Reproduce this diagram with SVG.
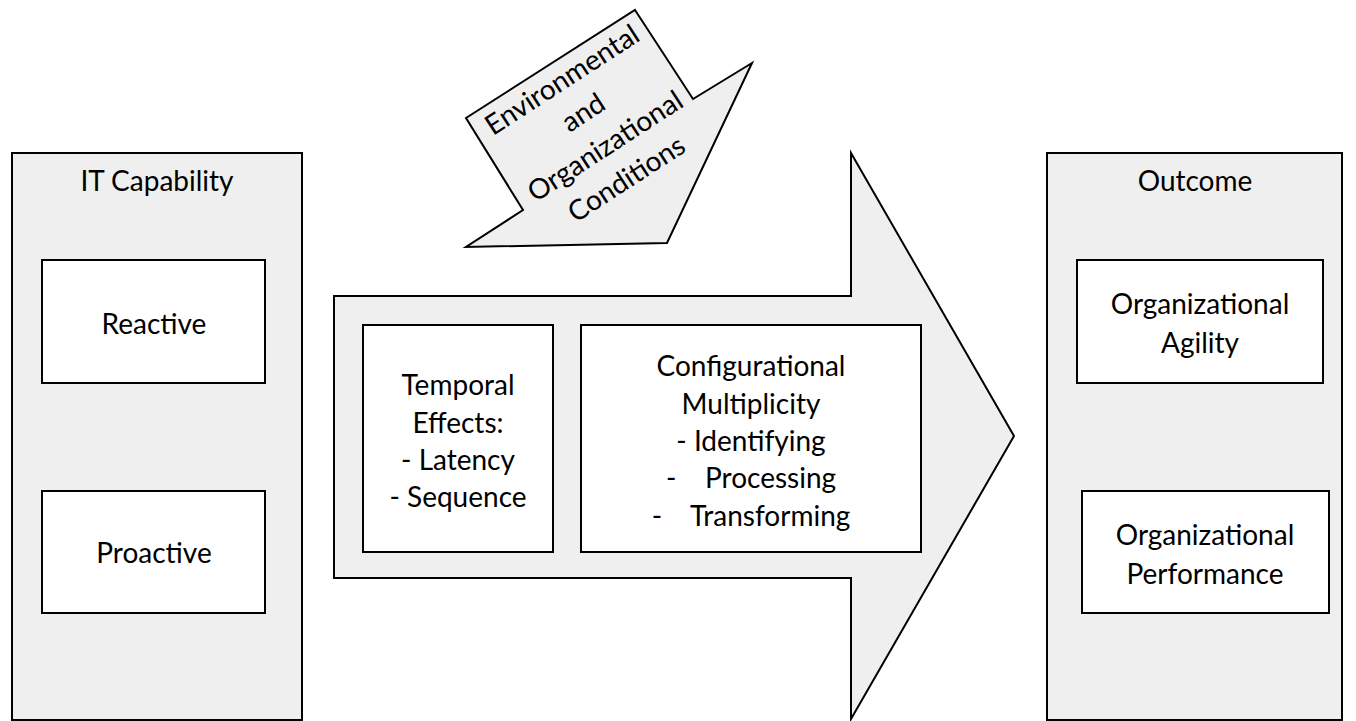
<svg xmlns="http://www.w3.org/2000/svg" width="1356" height="721" viewBox="0 0 1356 721">
<style>
.panel{fill:#efefef;stroke:#000;stroke-width:2}
.box{fill:#fff;stroke:#000;stroke-width:2}
.t{font-family:Lato,"Open Sans",sans-serif;font-size:28px;fill:#000;text-anchor:middle}
</style>
<rect width="1356" height="721" fill="#fff"/>
<g id="it-capability">
<rect class="panel" x="12" y="153" width="290" height="567"/>
<text class="t" x="157" y="191">IT Capability</text>
</g>
<g id="reactive">
<rect class="box" x="42" y="260" width="223" height="123"/>
<text class="t" x="154" y="334">Reactive</text>
</g>
<g id="proactive">
<rect class="box" x="42" y="491" width="223" height="122"/>
<text class="t" x="154" y="563">Proactive</text>
</g>
<g id="connectors">
<g id="process-arrow">
<polygon class="panel" points="334,296 851,296 851,153 1014,436 851,719 851,578 334,578"/>
</g>
<g id="conditions-arrow">
<polygon class="panel" points="635,10 693,99 752,63 667,243 466,247 523,210 466,118"/>
<g transform="translate(594,129) rotate(-33)">
<text class="t" x="0" y="-49">Environmental</text>
<text class="t" x="0" y="-10">and</text>
<text class="t" x="0" y="30">Organizational</text>
<text class="t" x="0" y="69">Conditions</text>
</g>
</g>
</g>
<g id="temporal">
<rect class="box" x="363" y="325" width="190" height="227"/>
<text class="t" x="458" y="395">Temporal</text>
<text class="t" x="458" y="433">Effects:</text>
<text class="t" x="458" y="470">- Latency</text>
<text class="t" x="458" y="507">- Sequence</text>
</g>
<g id="configurational">
<rect class="box" x="581" y="325" width="340" height="227"/>
<text class="t" x="751" y="376">Configurational</text>
<text class="t" x="751" y="414">Multiplicity</text>
<text class="t" x="751" y="451">- Identifying</text>
<text class="t" x="751" y="488" xml:space="preserve">-    Processing</text>
<text class="t" x="751" y="526" xml:space="preserve">-    Transforming</text>
</g>
<g id="outcome">
<rect class="panel" x="1047" y="153" width="295" height="567"/>
<text class="t" x="1195" y="191">Outcome</text>
</g>
<g id="agility">
<rect class="box" x="1077" y="260" width="246" height="123"/>
<text class="t" x="1200" y="314">Organizational</text>
<text class="t" x="1200" y="353">Agility</text>
</g>
<g id="performance">
<rect class="box" x="1082" y="491" width="247" height="122"/>
<text class="t" x="1205" y="545">Organizational</text>
<text class="t" x="1205" y="584">Performance</text>
</g>
</svg>
